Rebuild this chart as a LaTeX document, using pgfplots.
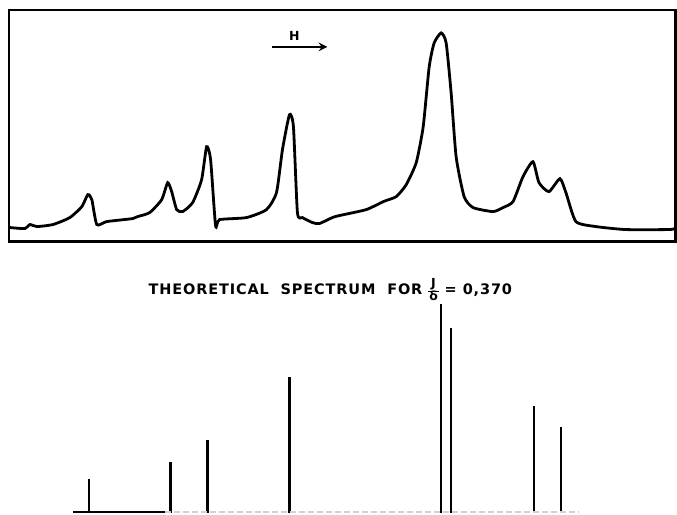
\documentclass[border=0pt]{standalone}
\usepackage{pgfplots}
\pgfplotsset{compat=1.18}
\usepackage{fontspec}
\setmainfont{DejaVu Sans}
\newfontfamily\lettering[LetterSpace=6]{DejaVu Sans Bold}
\newfontfamily\fracfont{DejaVu Sans Bold}
\newcommand{\Jdelta}{{\fracfont\fontsize{12.5}{12.5}\selectfont\renewcommand\arraystretch{0.8}\setlength{\tabcolsep}{1pt}%
  \begin{tabular}[c]{c}J\\\hline δ\end{tabular}}}
\begin{document}
\begin{tikzpicture}
\path (0pt,0pt) rectangle (677pt,514pt);
% top panel: recorded spectrum
\begin{axis}[
  at={(9pt,272pt)}, anchor=south west,
  x=1pt, y=1pt,
  xmin=9, xmax=677, ymin=272, ymax=504,
  axis line style={line width=2.6pt},
  xtick=\empty, ytick=\empty,
  clip=false,
]
\addplot[black, line width=2.8pt, smooth, tension=0.35] coordinates {
(10,286)(25,285)(30,289)(37,287)(53,289)(70,296)(82,307)(88,319)(92,314)(97,289)
(107,292)(133,295)(138,297)(150,301)(162,314)(168,331)(172,322)(177,304)(183,302)
(193,311)(202,334)(207,367)(211,354)(216,288)(220,294)(247,296)(267,304)(277,321)
(283,364)(290,399)(294,387)(298,301)(303,296)(313,291)(320,290)(333,296)(340,298)
(367,304)(384,312)(397,317)(407,329)(417,351)(424,387)(430,447)(435,471)(442,481)
(447,471)(452,421)(457,357)(465,317)(474,306)(494,302)(504,306)(514,312)(524,337)
(534,352)(540,331)(550,322)(561,335)(567,321)(577,292)(597,287)(627,284)(670,284)(676,285)
};
\draw[line width=2.8pt, -stealth] (axis cs:273,467) -- (axis cs:328,467);
\node[font=\lettering\fontsize{12.5}{12.5}\selectfont] at (axis cs:295,478) {H};
\end{axis}
% bottom panel: theoretical stick spectrum
\begin{axis}[
  at={(0pt,0pt)}, anchor=south west,
  x=1pt, y=1pt,
  xmin=0, xmax=677, ymin=0, ymax=260,
  hide axis, clip=false,
]
\addplot[black, line width=2.6pt, ycomb] coordinates {
(89,34)(171,51)(208,73)(290,136)(442,209)(452,185)(535,107)(562,86)
};
\addplot[black, line width=2pt] coordinates {(73,1)(165,1)};
\addplot[gray!35, line width=1.5pt, dash pattern=on 6pt off 3pt] coordinates {(165,1)(580,1)};
\node[font=\lettering\fontsize{14.5}{14.5}\selectfont, anchor=base] at (axis cs:331,219)
  {THEORETICAL\ \ SPECTRUM\ \ FOR \Jdelta{} = 0,370};
\end{axis}
\end{tikzpicture}
\end{document}
